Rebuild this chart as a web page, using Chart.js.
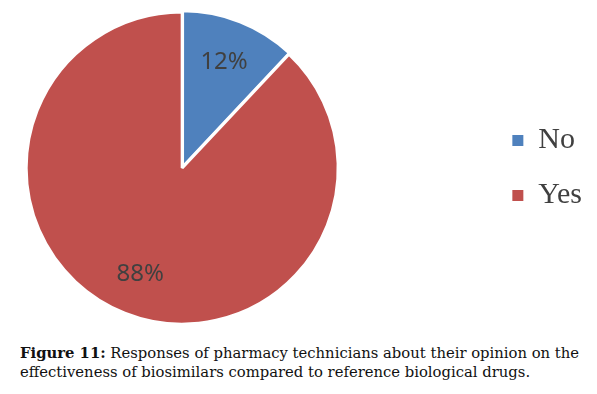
<!DOCTYPE html>
<html>
<head>
<meta charset="utf-8">
<script src="https://cdn.jsdelivr.net/npm/chart.js@4.4.0/dist/chart.umd.min.js"></script>
<style>
  body { margin: 0; background: #fff; width: 597px; height: 394px; overflow: hidden; position: relative; }
  #wrap { position: absolute; left: -123px; top: 0; width: 720px; height: 336px; }
  #caption { position: absolute; left: 20px; top: 343px; font-family: "DejaVu Serif", serif; font-size: 14.8px; line-height: 19px; color: #111; white-space: nowrap; }
  #caption b { font-weight: bold; }
</style>
</head>
<body>
<div id="wrap"><canvas id="pie"></canvas></div>
<div id="caption"><b>Figure 11:</b> Responses of pharmacy technicians about their opinion on the<br>effectiveness of biosimilars compared to reference biological drugs.</div>
<script>
const categories = ['No', 'Yes'];
const shares = [12, 88];
const colors = ['#4F81BD', '#C0504D'];

// percentage labels drawn inside each slice
const sliceLabels = {
    id: 'sliceLabels',
    afterDatasetsDraw(chart) {
        const ctx = chart.ctx;
        const meta = chart.getDatasetMeta(0);
        ctx.save();
        ctx.font = '24px "Noto Sans", sans-serif';
        ctx.fillStyle = '#404040';
        ctx.textAlign = 'center';
        ctx.textBaseline = 'middle';
        meta.data.forEach((arc, i) => {
            const p = arc.getProps(['x', 'y', 'startAngle', 'endAngle', 'outerRadius']);
            const mid = (p.startAngle + p.endAngle) / 2;
            const r = p.outerRadius * 0.73;
            ctx.fillText(shares[i] + '%', p.x + Math.cos(mid) * r, p.y + Math.sin(mid) * r);
        });
        ctx.restore();
    }
};

const ctx = document.getElementById('pie').getContext('2d');
const pie = new Chart(ctx, {
    type: 'pie',
    data: {
        labels: categories,
        datasets: [{
            data: shares,
            backgroundColor: colors,
            borderColor: '#ffffff',
            borderWidth: 3,
            offset: [4, 0],
            radius: 156
        }]
    },
    options: {
        responsive: true,
        maintainAspectRatio: false,
        animation: false,
        layout: { padding: { left: 0, right: 5, top: 14, bottom: 14 } },
        plugins: {
            tooltip: { enabled: false },
            legend: {
                position: 'right',
                labels: {
                    boxWidth: 11,
                    boxHeight: 11,
                    padding: 25,
                    color: '#404040',
                    font: { family: '"Liberation Serif", serif', size: 30 },
                    generateLabels(chart) {
                        return Chart.overrides.pie.plugins.legend.labels.generateLabels(chart)
                            .map(l => Object.assign(l, { lineWidth: 0 }));
                    }
                }
            }
        }
    },
    plugins: [sliceLabels]
});
</script>
</body>
</html>
